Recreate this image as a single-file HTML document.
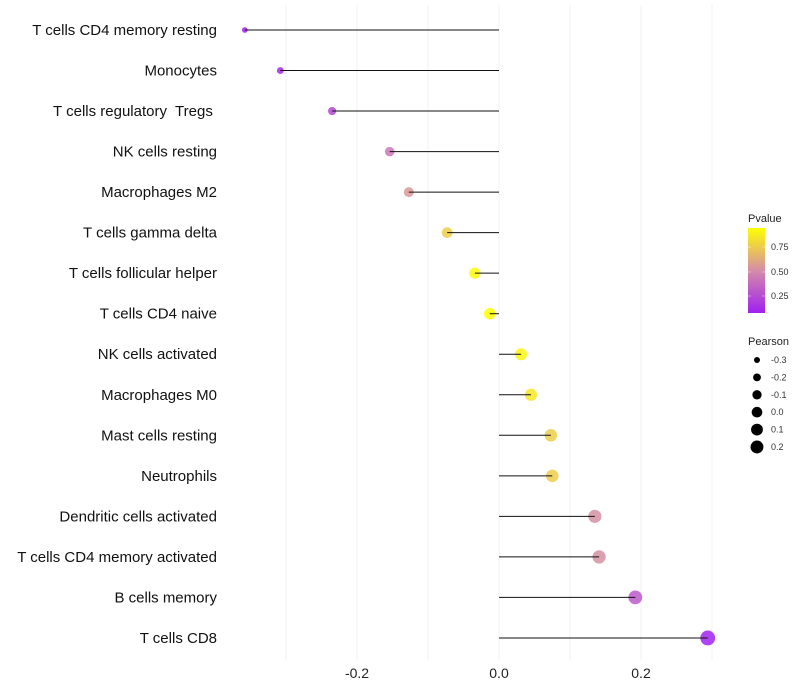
<!DOCTYPE html>
<html><head><meta charset="utf-8"><style>
body{margin:0;background:#fff;}
svg{display:block;font-family:"Liberation Sans",sans-serif;}
text{white-space:pre;}
</style></head><body>
<svg id="chart" width="800" height="700" viewBox="0 0 800 700">
<g id="grid"></g>
<g id="marks"></g>
<g id="ylabels"></g>
<g id="xlabels"></g>
<g>
<defs><linearGradient id="pg" x1="0" y1="1" x2="0" y2="0">
<stop offset="0" stop-color="#a020f0"/><stop offset="0.5" stop-color="#d58ca8"/><stop offset="1" stop-color="#ffff00"/></linearGradient></defs>
<text x="748" y="222" font-size="11" fill="#222">Pvalue</text>
<rect x="748" y="228" width="17" height="85" fill="url(#pg)"/>
<g font-size="9" fill="#333">
<text x="771" y="250">0.75</text><text x="771" y="275">0.50</text><text x="771" y="299">0.25</text></g>
<g stroke="#fff" stroke-width="0.6" opacity="0.7"><line x1="748" y1="247" x2="751" y2="247"/><line x1="762" y1="247" x2="765" y2="247"/><line x1="748" y1="272" x2="751" y2="272"/><line x1="762" y1="272" x2="765" y2="272"/><line x1="748" y1="296" x2="751" y2="296"/><line x1="762" y1="296" x2="765" y2="296"/></g>
</g>
<g id="sizelegend">
<text x="748" y="345" font-size="11" fill="#222">Pearson</text>
</g>
</svg>
<script>
const categories=["T cells CD4 memory resting","Monocytes","T cells regulatory  Tregs ","NK cells resting","Macrophages M2","T cells gamma delta","T cells follicular helper","T cells CD4 naive","NK cells activated","Macrophages M0","Mast cells resting","Neutrophils","Dendritic cells activated","T cells CD4 memory activated","B cells memory","T cells CD8"];
const pearson=[-0.358,-0.308,-0.235,-0.154,-0.127,-0.073,-0.034,-0.013,0.031,0.045,0.073,0.075,0.135,0.141,0.192,0.294];
const pvalues=[0.07,0.1,0.22,0.42,0.55,0.75,0.92,0.95,0.9,0.85,0.75,0.75,0.52,0.52,0.3,0.08];
const xTicks=[-0.2,0,0.2];
const xTickLabels=["-0.2","0.0","0.2"];
const legendVals=[-0.3,-0.2,-0.1,0.0,0.1,0.2];
const legendLabels=["-0.3","-0.2","-0.1","0.0","0.1","0.2"];
const NS="http://www.w3.org/2000/svg";
const x=v=>499+v*710;
const y=i=>30+i*40.53;
const r=v=>Math.sqrt(Math.max(1,8+72*(v+0.358)));
function col(p){
  const t=Math.max(0,Math.min(1,(p-0.07)/0.87));
  const a=[160,32,240],m=[213,140,168],b=[255,255,0];
  let c;
  if(t<0.5){const u=t/0.5;c=a.map((v,k)=>Math.round(v+(m[k]-v)*u));}
  else{const u=(t-0.5)/0.5;c=m.map((v,k)=>Math.round(v+(b[k]-v)*u));}
  return `rgb(${c.join(',')})`;
}
function mk(tag,attrs,parent){const e=document.createElementNS(NS,tag);for(const k in attrs)e.setAttribute(k,attrs[k]);parent.appendChild(e);return e;}
const grid=document.getElementById('grid');
for(let g=-0.3;g<=0.31;g+=0.1){
  const gl=mk('line',{x1:x(g),x2:x(g),y1:5,y2:660,stroke:'#f0f0f0','stroke-width':1},grid);
  
  
}
const marks=document.getElementById('marks'),yl=document.getElementById('ylabels');
categories.forEach((c,i)=>{
  const cy=y(i);
  const pt=mk('circle',{cx:x(pearson[i]),cy:cy,r:r(pearson[i]),fill:col(pvalues[i]),opacity:0.85},marks);
  
  
  const ln=mk('line',{x1:x(0),x2:x(pearson[i]),y1:cy,y2:cy,stroke:'#111','stroke-width':1},marks);
  
  
  const t=mk('text',{x:217,y:cy+5,'text-anchor':'end','font-size':15,fill:'#111'},yl);
  t.textContent=c;
  
  
});
const xl=document.getElementById('xlabels');
xTicks.forEach((v,i)=>{
  const t=mk('text',{x:x(v),y:678,'text-anchor':'middle','font-size':14,fill:'#222'},xl);
  t.textContent=xTickLabels[i];
  
  
});
const sl=document.getElementById('sizelegend');
legendVals.forEach((v,i)=>{
  const cy=360+i*17.4;
  const c=mk('circle',{cx:757,cy:cy,r:r(v)-0.5,fill:'#000'},sl);
  
  
  const t=mk('text',{x:771,y:cy+3,'font-size':9,fill:'#333'},sl);
  t.textContent=legendLabels[i];
  
  
});
</script>
</body></html>
